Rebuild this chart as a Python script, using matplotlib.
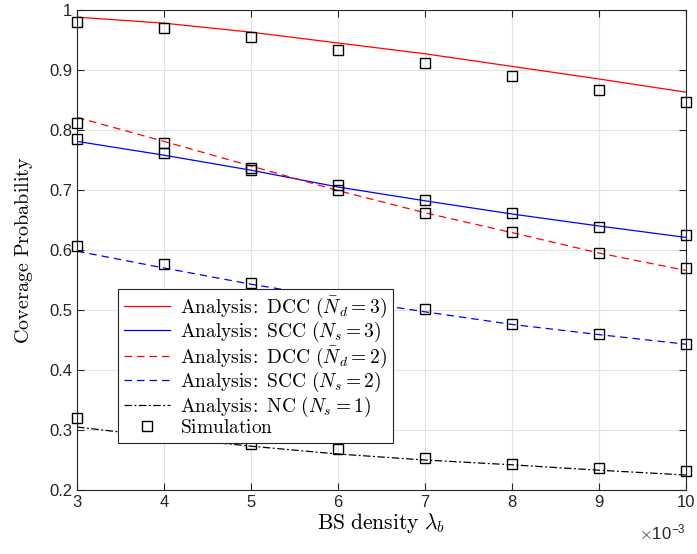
import numpy as np
import matplotlib
matplotlib.use("Agg")
import matplotlib.pyplot as plt

plt.rcParams["mathtext.fontset"] = "cm"
plt.rcParams["font.family"] = ["Liberation Sans", "DejaVu Sans"]

# BS density (x 1e-3)
density = [3, 4, 5, 6, 7, 8, 9, 10]

# analysis curves
ana_dcc3 = [0.988, 0.978, 0.963, 0.945, 0.927, 0.906, 0.885, 0.863]
ana_scc3 = [0.781, 0.758, 0.733, 0.705, 0.682, 0.660, 0.640, 0.621]
ana_dcc2 = [0.821, 0.781, 0.740, 0.699, 0.662, 0.629, 0.595, 0.566]
ana_scc2 = [0.598, 0.570, 0.543, 0.519, 0.497, 0.476, 0.459, 0.443]
ana_nc   = [0.305, 0.288, 0.273, 0.260, 0.250, 0.242, 0.233, 0.225]

# simulation points
sim_dcc3 = [0.980, 0.970, 0.955, 0.933, 0.912, 0.890, 0.867, 0.847]
sim_scc3 = [0.785, 0.762, 0.733, 0.708, 0.683, 0.661, 0.638, 0.625]
sim_dcc2 = [0.812, 0.778, 0.736, 0.700, 0.662, 0.630, 0.595, 0.570]
sim_scc2 = [0.607, 0.576, 0.545, 0.520, 0.501, 0.477, 0.460, 0.444]
sim_nc   = [0.320, 0.290, 0.277, 0.268, 0.253, 0.243, 0.236, 0.232]

y_ticks = [0.2, 0.3, 0.4, 0.5, 0.6, 0.7, 0.8, 0.9, 1.0]
y_tick_labels = ["0.2", "0.3", "0.4", "0.5", "0.6", "0.7", "0.8", "0.9", "1"]

fig = plt.figure(figsize=(6.97, 5.54), dpi=100)
ax = fig.add_axes([0.1105, 0.1155, 0.8735, 0.8665])

lw = 0.9
ax.plot(density, ana_dcc3, color="#ff0000", lw=lw,
        label=r"$\mathrm{Analysis\!:\ DCC\ (}\bar{N}_d = 3\mathrm{)}$")
ax.plot(density, ana_scc3, color="#0000ff", lw=lw,
        label=r"$\mathrm{Analysis\!:\ SCC\ (}N_s = 3\mathrm{)}$")
ax.plot(density, ana_dcc2, color="#ff0000", lw=lw, ls=(0, (6, 4)),
        label=r"$\mathrm{Analysis\!:\ DCC\ (}\bar{N}_d = 2\mathrm{)}$")
ax.plot(density, ana_scc2, color="#0000ff", lw=lw, ls=(0, (6, 4)),
        label=r"$\mathrm{Analysis\!:\ SCC\ (}N_s = 2\mathrm{)}$")
ax.plot(density, ana_nc, color="black", lw=lw, ls=(0, (6, 2, 1.5, 2)),
        label=r"$\mathrm{Analysis\!:\ NC\ (}N_s = 1\mathrm{)}$")

sim_kw = dict(ls="none", marker="s", ms=6.5, mfc="none", mec="black", mew=1.0,
              clip_on=False, zorder=5)
for i, s in enumerate([sim_dcc3, sim_scc3, sim_dcc2, sim_scc2, sim_nc]):
    ax.plot(density, s, label=r"$\mathrm{Simulation}$" if i == 0 else None, **sim_kw)

ax.set_xlim(3, 10)
ax.set_ylim(0.2, 1.0)
ax.set_xticks(density)
ax.set_yticks(y_ticks)
ax.set_yticklabels(y_tick_labels)
ax.grid(True, color="#e3e3e3", lw=0.8)
ax.set_axisbelow(True)
ax.tick_params(direction="in", top=True, right=True, labelsize=12,
               colors="#262626", length=5)
for sp in ax.spines.values():
    sp.set_color("#262626")
    sp.set_linewidth(0.8)

ax.set_xlabel(r"$\mathrm{BS\ density\ }\lambda_b$", fontsize=15.5, labelpad=1)
ax.set_ylabel(r"$\mathrm{Coverage\ Probability}$", fontsize=14.5, labelpad=10)
ax.text(1.0, -0.068, r"$\times$10$^{\mathregular{-3}}$", transform=ax.transAxes,
        ha="right", va="top", fontsize=12, color="#262626")

leg = ax.legend(loc="lower left", bbox_to_anchor=(0.067, 0.098), fontsize=14,
                frameon=True, fancybox=False, edgecolor="#262626",
                handlelength=2.4, handletextpad=0.5, labelspacing=0.02,
                borderpad=0.3, borderaxespad=0, framealpha=1)
leg.get_frame().set_linewidth(0.8)
leg.set_zorder(10)

fig.savefig("out.png", dpi=100)
